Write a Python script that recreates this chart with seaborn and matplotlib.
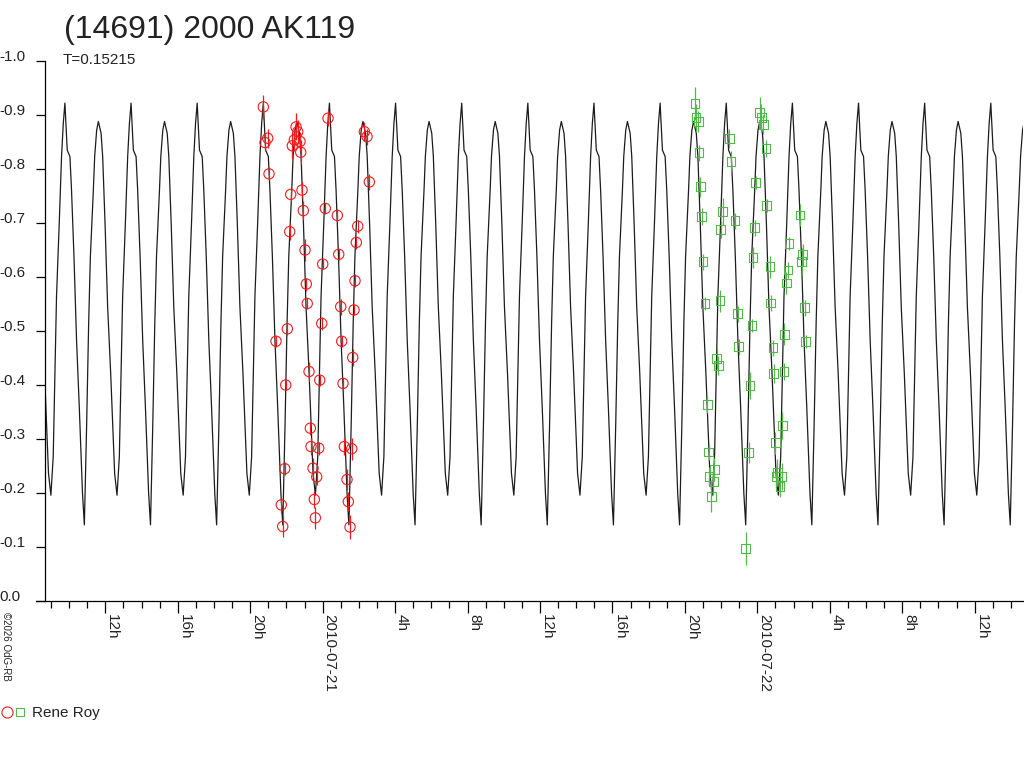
import numpy as np
import pandas as pd
import seaborn as sns
import matplotlib
matplotlib.use("Agg")
import matplotlib.pyplot as plt
import matplotlib.dates as mdates
import matplotlib.ticker as mticker
from matplotlib.lines import Line2D
from matplotlib.legend_handler import HandlerTuple

# lightcurve model: one period (phase 0 = deep minimum)
period_days = 0.15215
epoch_hours = 29.101          # hours after 2010-07-20 00:00
profile_phase = [0.0, 0.035, 0.065, 0.091, 0.136, 0.156, 0.186, 0.212, 0.253, 0.277,
                 0.313, 0.352, 0.398, 0.428, 0.458, 0.494, 0.529, 0.555, 0.579, 0.620,
                 0.655, 0.681, 0.706, 0.741, 0.782, 0.806, 0.843, 0.882, 0.923, 0.972, 1.0]
profile_mag = [-0.141, -0.329, -0.514, -0.638, -0.761, -0.823, -0.872, -0.888, -0.866, -0.823,
               -0.699, -0.545, -0.422, -0.329, -0.236, -0.196, -0.267, -0.422, -0.564, -0.699,
               -0.823, -0.884, -0.922, -0.835, -0.823, -0.761, -0.638, -0.483, -0.360, -0.199, -0.141]

# Rene Roy, night 1 (hours after 2010-07-20 00:00)
red_hours = [20.724, 20.967, 20.818, 21.039, 21.426, 21.718, 21.796, 21.906, 21.961, 22.050,
             22.182, 22.237, 22.530, 22.624, 22.436, 22.751, 22.326, 22.790, 22.861, 22.933,
             23.027, 23.099, 23.149, 23.248, 23.320, 23.358, 23.469, 23.541, 23.596, 23.673,
             23.784, 23.839, 23.949, 24.004, 24.148, 24.297, 24.811, 24.888, 24.998, 25.054,
             25.125, 25.197, 25.346, 25.418, 25.512, 25.606, 25.661, 25.733, 25.788, 25.860,
             25.937, 26.302, 26.451, 26.578]
red_mag = [-0.915, -0.857, -0.849, -0.791, -0.481, -0.178, -0.138, -0.245, -0.400, -0.504,
           -0.684, -0.753, -0.878, -0.869, -0.854, -0.851, -0.843, -0.831, -0.761, -0.723,
           -0.650, -0.587, -0.551, -0.425, -0.320, -0.286, -0.246, -0.188, -0.154, -0.230,
           -0.283, -0.409, -0.514, -0.624, -0.727, -0.894, -0.714, -0.642, -0.545, -0.481,
           -0.403, -0.286, -0.225, -0.184, -0.137, -0.282, -0.451, -0.539, -0.593, -0.664,
           -0.694, -0.869, -0.860, -0.776]
red_err = [0.022, 0.018, 0.015, 0.012, 0.010, 0.015, 0.020, 0.012, 0.010, 0.012,
           0.015, 0.012, 0.025, 0.022, 0.020, 0.018, 0.025, 0.022, 0.015, 0.018,
           0.020, 0.012, 0.010, 0.018, 0.012, 0.015, 0.018, 0.015, 0.020, 0.015,
           0.012, 0.010, 0.012, 0.010, 0.010, 0.015, 0.012, 0.010, 0.015, 0.010,
           0.010, 0.015, 0.020, 0.018, 0.022, 0.020, 0.015, 0.010, 0.012, 0.012,
           0.012, 0.018, 0.015, 0.015]

# Rene Roy, night 2
green_hours = [44.562, 44.617, 44.744, 44.783, 44.855, 44.932, 45.004, 45.115, 45.241, 45.319,
               45.628, 45.352, 45.573, 45.462, 45.761, 45.849, 45.943, 45.981, 46.092, 46.456,
               46.550, 46.771, 46.920, 46.975, 47.362, 47.527, 47.599, 47.710, 47.765, 47.859,
               47.914, 48.135, 48.224, 48.334, 48.483, 48.522, 48.704, 48.743, 48.869, 48.908,
               48.996, 49.107, 49.035, 49.350, 49.256, 49.383, 49.477, 49.493, 49.604, 49.698,
               49.753, 50.361, 50.454, 50.510, 50.620, 50.675]
green_mag = [-0.921, -0.896, -0.888, -0.830, -0.767, -0.712, -0.628, -0.551, -0.364, -0.276,
             -0.244, -0.231, -0.222, -0.193, -0.449, -0.436, -0.556, -0.688, -0.722, -0.856,
             -0.814, -0.704, -0.532, -0.471, -0.097, -0.275, -0.399, -0.510, -0.636, -0.691,
             -0.775, -0.904, -0.895, -0.882, -0.838, -0.732, -0.619, -0.552, -0.469, -0.421,
             -0.293, -0.238, -0.230, -0.231, -0.212, -0.325, -0.425, -0.494, -0.589, -0.613,
             -0.662, -0.715, -0.628, -0.641, -0.543, -0.480]
green_err = [0.030, 0.025, 0.020, 0.015, 0.018, 0.015, 0.015, 0.012, 0.015, 0.015,
             0.020, 0.018, 0.025, 0.028, 0.020, 0.018, 0.020, 0.015, 0.025, 0.018,
             0.020, 0.015, 0.015, 0.015, 0.030, 0.020, 0.025, 0.012, 0.020, 0.015,
             0.012, 0.030, 0.025, 0.018, 0.015, 0.012, 0.020, 0.015, 0.015, 0.018,
             0.020, 0.025, 0.020, 0.025, 0.020, 0.025, 0.015, 0.020, 0.020, 0.015,
             0.012, 0.020, 0.025, 0.020, 0.015, 0.012]

t_start, t_end = 8.67, 62.67
y_ticks = np.linspace(-1.0, 0.0, 11)

base = pd.Timestamp("2010-07-20")


def to_time(h):
    return base + pd.to_timedelta(np.asarray(h, dtype=float), unit="h")


sns.set_theme(style="white")
plt.rcParams["font.family"] = ["Liberation Sans", "DejaVu Sans"]
plt.rcParams["axes.unicode_minus"] = False

fig = plt.figure(figsize=(10.24, 7.68), dpi=100)
ax = fig.add_axes([45 / 1024, 167 / 768, 978 / 1024, 540 / 768])

# repeat the phased profile over the whole time span
P = period_days * 24
k = np.arange(np.floor((t_start - epoch_hours) / P) - 1, np.ceil((t_end - epoch_hours) / P) + 1)
curve_hours = (epoch_hours + (k[:, None] + np.array(profile_phase[:-1])[None, :]) * P).ravel()
curve_mag = np.tile(profile_mag[:-1], len(k))
curve = pd.DataFrame({"time": to_time(curve_hours), "mag": curve_mag})
sns.lineplot(data=curve, x="time", y="mag", color="#1c1c1c", lw=0.9,
             estimator=None, sort=False, ax=ax)

red = pd.DataFrame({"time": to_time(red_hours), "mag": red_mag, "err": red_err})
green = pd.DataFrame({"time": to_time(green_hours), "mag": green_mag, "err": green_err})

red_c = "#ee1c1c"
green_c = "#52b84a"
ax.errorbar(red["time"], red["mag"], yerr=red["err"], fmt="none", ecolor=red_c, elinewidth=0.9, capsize=0)
ax.errorbar(green["time"], green["mag"], yerr=green["err"], fmt="none", ecolor=green_c, elinewidth=0.9, capsize=0)
sns.scatterplot(data=red, x="time", y="mag", marker="o", s=55, facecolor="none",
                edgecolor=red_c, linewidth=0.8, ax=ax, zorder=3)
sns.scatterplot(data=green, x="time", y="mag", marker="s", s=40, facecolor="none",
                edgecolor=green_c, linewidth=0.8, ax=ax, zorder=3)

ax.set_xlim(to_time(t_start), to_time(t_end))
ax.set_ylim(0.0, -1.0)
ax.set_xlabel("")
ax.set_ylabel("")

for side in ["top", "right"]:
    ax.spines[side].set_visible(False)
for side in ["left", "bottom"]:
    ax.spines[side].set_color("black")
    ax.spines[side].set_linewidth(0.9)
# bottom axis line runs a little past the y axis, as in the original
ax.spines["bottom"].set_bounds(mdates.date2num(to_time(t_start - 0.5)),
                               mdates.date2num(to_time(t_end)))

# x axis: hour ticks, labels every 4 hours
ax.xaxis.set_major_locator(mdates.HourLocator(byhour=range(0, 24, 4)))
ax.xaxis.set_minor_locator(mdates.HourLocator())


def hour_label(x, pos):
    d = mdates.num2date(x)
    if d.hour == 0:
        return d.strftime("%Y-%m-%d")
    return f"{d.hour}h"


ax.xaxis.set_major_formatter(mticker.FuncFormatter(hour_label))
ax.tick_params(axis="x", which="major", direction="out", length=8.5, width=0.9,
               color="black", labelsize=11, labelcolor="#222222", pad=1, bottom=True)
ax.tick_params(axis="x", which="minor", direction="out", length=5, width=0.9,
               color="black", bottom=True)
for lab in ax.get_xticklabels():
    lab.set_rotation(270)
    lab.set_ha("left")
    lab.set_va("top")

# y axis
ax.set_yticks(y_ticks)
ax.yaxis.set_major_formatter(mticker.FormatStrFormatter("%.1f"))
ax.tick_params(axis="y", direction="out", length=6.5, width=0.9, color="black",
               labelsize=11, labelcolor="#222222", pad=26, left=True)
for lab in ax.get_yticklabels():
    lab.set_ha("left")
    lab.set_va("baseline")

# texts
fig.text(64 / 1024, 1 - 38 / 768, "(14691) 2000 AK119", fontsize=23, color="#222222", va="baseline", ha="left")
fig.text(63 / 1024, 1 - 63.5 / 768, "T=0.15215", fontsize=11, color="#222222", va="baseline", ha="left")
fig.text(1 / 1024, 1 - 612 / 768, "\u00a92026 OdG-RB", fontsize=7, rotation=270, ha="left", va="top", color="#222222")

# legend
h_red = Line2D([], [], ls="none", marker="o", ms=8, mfc="none", mec=red_c, mew=0.8)
h_green = Line2D([], [], ls="none", marker="s", ms=6, mfc="none", mec=green_c, mew=0.8)
fig.legend(handles=[(h_red, h_green)], labels=["Rene Roy"],
           handler_map={tuple: HandlerTuple(ndivide=None, pad=0.1)},
           loc="center left", bbox_to_anchor=(0.0, 1 - 713 / 768), frameon=False,
           fontsize=11, handlelength=1.6, handletextpad=0.4, borderaxespad=0, borderpad=0.1,
           labelcolor="#222222")

fig.savefig("out.png", dpi=100)
